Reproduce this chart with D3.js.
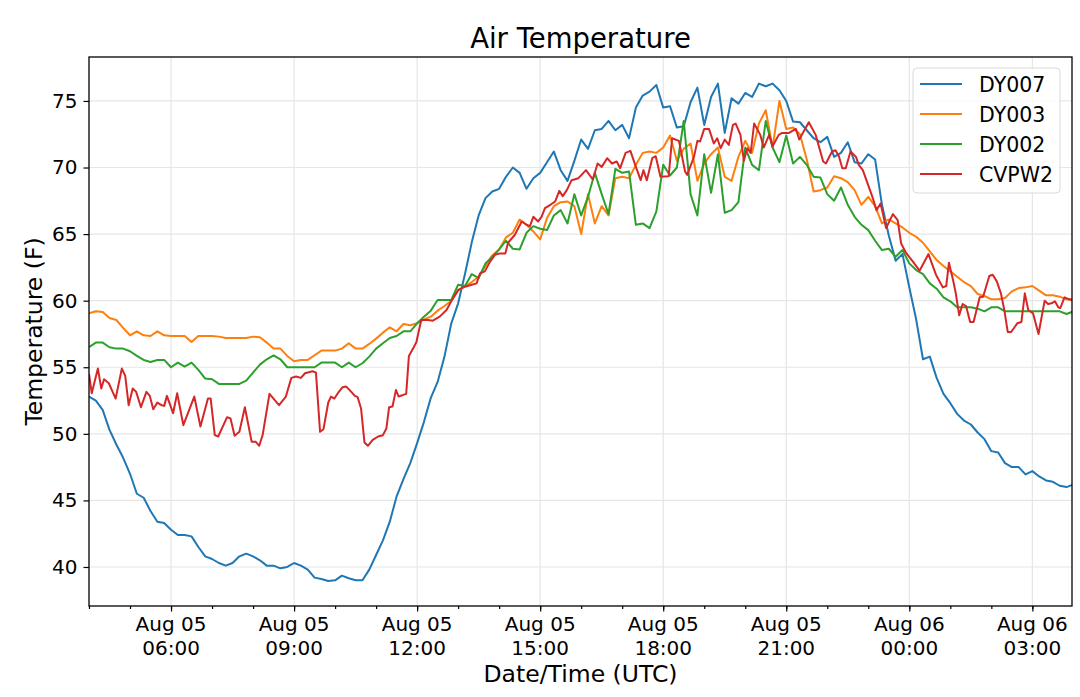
<!DOCTYPE html>
<html>
<head>
<meta charset="utf-8">
<script src="https://cdn.jsdelivr.net/npm/d3@7"></script>
<style>
  body { margin: 0; background: #fff; }
  text { font-family: "DejaVu Sans", sans-serif; fill: #000; }
</style>
</head>
<body>
<div id="chart"></div>
<script>
// readings every 10 min from Aug 05 04:00 UTC
var startTime = Date.UTC(2019, 7, 5, 4, 0);
var stepMinutes = 10;

var seriesNames = ["DY007", "DY003", "DY002", "CVPW2"];
var seriesColors = ["#1f77b4", "#ff7f0e", "#2ca02c", "#d62728"];

var dy007 = [
  52.8, 52.5, 51.8, 50.3, 49.2, 48.2, 47.0, 45.5, 45.2, 44.2,
  43.4, 43.3, 42.8, 42.4, 42.4, 42.3, 41.5, 40.8, 40.6, 40.3,
  40.1, 40.3, 40.8, 41.0, 40.8, 40.5, 40.1, 40.1, 39.9, 40.0,
  40.3, 40.1, 39.8, 39.2, 39.1, 38.95, 39.0, 39.35, 39.15, 39.0,
  39.0, 39.8, 40.9, 42.0, 43.4, 45.3, 46.6, 47.8, 49.3, 50.9,
  52.7, 53.9, 55.8, 58.3, 59.8, 62.0, 64.4, 66.4, 67.7, 68.2,
  68.4, 69.3, 70.0, 69.6, 68.4, 69.2, 69.6, 70.4, 71.2, 69.8,
  69.0, 70.5, 72.1, 71.4, 72.8, 72.9, 73.5, 72.8, 73.2, 72.2,
  74.5, 75.4, 75.7, 76.2, 74.5, 74.6, 73.0, 73.1, 74.9, 76.0,
  73.2, 75.3, 76.3, 72.6, 75.2, 74.8, 75.6, 75.3, 76.3, 76.1,
  76.3, 75.8, 75.0, 73.45, 73.4, 72.8, 72.2, 71.9, 72.3, 70.8,
  71.1, 71.9, 70.4, 70.3, 71.0, 70.6, 67.2, 64.9, 63.0, 63.5,
  61.0, 58.6, 55.6, 55.8, 54.2, 53.0, 52.3, 51.5, 51.0, 50.7,
  50.1, 49.6, 48.7, 48.6, 47.8, 47.5, 47.5, 46.95, 47.2, 46.8,
  46.5, 46.4, 46.1, 46.0, 46.2
];

var dy003 = [
  59.05, 59.2, 59.15, 58.7, 58.55, 57.95, 57.4, 57.7, 57.4, 57.35,
  57.7, 57.4, 57.35, 57.35, 57.35, 56.9, 57.35, 57.35, 57.35, 57.3,
  57.2, 57.2, 57.2, 57.2, 57.3, 57.25, 56.85, 56.4, 56.4, 55.85,
  55.45, 55.55, 55.55, 55.9, 56.25, 56.25, 56.25, 56.4, 56.8, 56.4,
  56.4, 56.75, 57.15, 57.6, 58.0, 57.7, 58.25, 58.15, 58.3, 58.6,
  58.8, 59.25, 59.6, 60.0, 60.75, 61.1, 61.4, 61.8, 62.6, 63.4,
  63.85, 64.75, 65.1, 66.1, 65.7, 65.2, 64.6, 66.2, 67.1, 67.4,
  67.45, 67.1, 65.0, 68.0, 65.8, 67.1, 66.4, 69.2, 69.3, 69.2,
  70.2, 71.1, 71.2, 71.1, 71.5, 72.4, 70.5, 71.4, 71.8, 69.0,
  70.3, 71.0, 71.5, 69.3, 69.0, 70.8, 72.0, 71.1, 73.3, 74.3,
  71.5, 75.0, 72.9, 73.0, 72.5, 70.6, 68.2, 68.3, 68.5, 69.35,
  69.2, 68.9, 68.3, 67.2, 67.8, 67.1, 65.8, 66.1, 65.8, 65.5,
  65.1, 64.8, 64.35, 63.7, 63.05, 62.6, 62.2, 61.8, 61.4, 61.1,
  60.5, 60.35, 60.1, 60.1, 60.2, 60.7, 60.95, 61.0, 61.1, 60.75,
  60.4, 60.4, 60.3, 60.1, 60.05
];

var dy002 = [
  56.5, 56.85, 56.85, 56.5, 56.4, 56.4, 56.2, 55.85, 55.55, 55.4,
  55.55, 55.55, 55.0, 55.35, 55.05, 55.35, 54.8, 54.15, 54.1, 53.75,
  53.75, 53.75, 53.75, 54.0, 54.6, 55.2, 55.6, 55.9, 55.6, 55.0,
  55.0, 55.0, 55.0, 55.0, 55.35, 55.35, 55.35, 55.0, 55.35, 55.0,
  55.3, 55.8, 56.4, 56.8, 57.2, 57.35, 57.7, 57.7, 58.3, 58.8,
  59.25, 60.05, 60.05, 60.05, 61.2, 61.1, 62.0, 61.7, 62.8, 63.3,
  63.85, 64.5, 63.9, 63.85, 65.1, 65.6, 65.4, 65.3, 66.4, 66.8,
  65.8, 68.0, 66.4, 67.8, 69.6, 68.0, 66.5, 69.9, 69.6, 69.7,
  65.7, 65.8, 65.45, 66.7, 70.2, 69.4, 70.0, 73.5, 68.0, 66.4,
  71.0, 68.1, 71.0, 66.6, 66.8, 67.4, 71.5, 70.2, 69.8, 73.5,
  71.5, 70.4, 72.4, 70.3, 70.8, 70.2, 69.3, 69.25, 68.0, 67.5,
  68.5, 67.2, 66.3, 65.7, 65.3, 64.5, 63.8, 63.9, 63.3, 63.8,
  62.8, 62.3, 62.0, 61.3, 60.9, 60.25, 59.95, 59.5, 59.5, 59.5,
  59.4, 59.2, 59.5, 59.5, 59.2, 59.2, 59.2, 59.2, 59.2, 59.2,
  59.2, 59.2, 59.2, 59.0, 59.2
];

// CVPW2 reports more often: minutes after 04:00 and temperature
var cvpw2Minutes = [
  0, 4, 13, 18, 22, 29, 39, 48, 53, 58,
  64, 69, 76, 84, 89, 94, 100, 106, 110, 114,
  123, 129, 138, 154, 163, 174, 178, 184, 189, 202,
  207, 213, 220, 228, 238, 244, 249, 254, 264, 278,
  288, 296, 303, 310, 316, 327, 332, 338, 343, 350,
  354, 359, 364, 371, 376, 381, 389, 393, 398, 403,
  408, 415, 423, 430, 435, 439, 444, 449, 453, 464,
  468, 474, 479, 486, 496, 503, 513, 523, 530, 540,
  550, 560, 567, 572, 579, 587, 594, 601, 609, 613,
  623, 633, 640, 645, 650, 657, 662, 667, 675, 682,
  688, 693, 699, 706, 716, 727, 737, 744, 750, 758,
  765, 772, 777, 785, 792, 799, 807, 811, 816, 824,
  829, 836, 848, 853, 863, 872, 875, 885, 890, 894,
  900, 907, 914, 919, 924, 930, 936, 942, 946, 953,
  958, 963, 968, 973, 982, 987, 995, 1000, 1009, 1014,
  1024, 1034, 1039, 1053, 1063, 1074, 1078, 1087, 1092, 1097,
  1102, 1107, 1114, 1122, 1126, 1132, 1146, 1152, 1158, 1166,
  1176, 1183, 1188, 1195, 1205, 1215, 1228, 1239, 1249, 1254,
  1258, 1264, 1268, 1273, 1278, 1283, 1289, 1294, 1303, 1308,
  1317, 1322, 1328, 1334, 1339, 1344, 1349, 1358, 1364, 1369,
  1374, 1381, 1389, 1398, 1403, 1408, 1413, 1418, 1421, 1427,
  1434, 1440
];

var cvpw2Temps = [
  54.5, 53.05, 54.9, 53.4, 54.1, 53.8, 52.65, 54.9, 54.35, 52.15,
  53.4, 53.15, 52.0, 53.15, 52.85, 51.85, 52.35, 52.15, 52.1, 52.85,
  51.55, 53.05, 50.65, 52.8, 50.55, 52.65, 52.65, 49.9, 49.8, 51.25,
  51.15, 49.85, 50.15, 52.0, 49.4, 49.4, 49.1, 49.9, 53.0, 52.15,
  52.8, 54.2, 54.3, 54.2, 54.55, 54.7, 54.6, 50.15, 50.35, 52.35,
  52.8, 52.65, 53.05, 53.5, 53.55, 53.3, 52.85, 52.75, 51.9, 49.35,
  49.1, 49.55, 49.8, 49.9, 50.4, 52.0, 52.05, 53.3, 52.8, 53.0,
  55.85, 56.4, 56.9, 58.55, 58.55, 58.5, 58.8, 59.3, 59.95, 60.8,
  61.05, 61.2, 61.3, 62.05, 62.2, 62.95, 63.45, 63.55, 63.55, 64.35,
  64.95, 65.95, 65.7, 65.6, 66.3, 65.95, 66.3, 66.95, 67.2, 67.45,
  68.25, 67.85, 68.3, 69.05, 69.2, 69.8, 69.1, 70.3, 70.05, 70.7,
  70.3, 70.45, 69.95, 71.1, 71.25, 70.2, 69.05, 69.8, 69.05, 70.7,
  70.85, 69.3, 69.35, 72.2, 72.0, 69.7, 69.45, 70.8, 72.0, 71.95,
  72.9, 72.9, 71.8, 72.2, 71.45, 72.1, 71.7, 73.2, 73.3, 72.45,
  70.5, 71.45, 71.1, 73.3, 72.45, 71.5, 72.45, 71.6, 72.45, 72.6,
  72.6, 72.9, 72.1, 73.4, 72.45, 70.45, 70.3, 71.2, 71.3, 70.85,
  69.95, 69.95, 71.2, 70.8, 70.2, 69.8, 67.8, 66.8, 67.3, 65.45,
  66.5, 66.05, 64.3, 63.6, 62.95, 62.25, 63.5, 61.95, 61.0, 61.1,
  62.85, 61.55, 60.55, 58.9, 59.75, 59.6, 58.4, 58.4, 60.25, 60.3,
  61.85, 61.95, 61.45, 60.55, 59.3, 57.65, 57.65, 58.3, 58.4, 60.55,
  59.3, 59.05, 57.5, 60.0, 59.75, 59.8, 59.95, 59.5, 59.45, 60.25,
  60.1, 60.05
];

var yTicks = [40, 45, 50, 55, 60, 65, 70, 75];
var yDomain = [37.07, 78.3];
var endMinutes = 1438;

var width = 1080, height = 697;
var margin = {top: 57, right: 8, bottom: 91, left: 89};
var plotW = width - margin.left - margin.right,
    plotH = height - margin.top - margin.bottom;

var minute = 60000;
var x = d3.scaleUtc()
    .domain([new Date(startTime), new Date(startTime + endMinutes * minute)])
    .range([0, plotW]);

var y = d3.scaleLinear()
    .domain(yDomain)
    .range([plotH, 0]);

function regular(values) {
  return values.map(function(v, i) {
    return {date: new Date(startTime + i * stepMinutes * minute), value: v};
  });
}

var series = [
  regular(dy007),
  regular(dy003),
  regular(dy002),
  cvpw2Minutes.map(function(m, i) {
    return {date: new Date(startTime + m * minute), value: cvpw2Temps[i]};
  })
];

var line = d3.line()
    .x(function(d) { return x(d.date); })
    .y(function(d) { return y(d.value); });

var svg = d3.select("#chart").append("svg")
    .attr("width", width)
    .attr("height", height);

var g = svg.append("g")
    .attr("transform", "translate(" + margin.left + "," + margin.top + ")");

g.append("clipPath").attr("id", "plot-clip")
  .append("rect").attr("width", plotW).attr("height", plotH);

var majorTicks = x.ticks(d3.utcHour.every(3));

// grid
g.append("g").selectAll("line")
    .data(yTicks)
  .join("line")
    .attr("x1", 0).attr("x2", plotW)
    .attr("y1", function(d) { return y(d); })
    .attr("y2", function(d) { return y(d); })
    .attr("stroke", "#e6e6e6").attr("stroke-width", 1.2);

g.append("g").selectAll("line")
    .data(majorTicks)
  .join("line")
    .attr("y1", 0).attr("y2", plotH)
    .attr("x1", function(d) { return x(d); })
    .attr("x2", function(d) { return x(d); })
    .attr("stroke", "#e6e6e6").attr("stroke-width", 1.2);

// lines
g.append("g").attr("clip-path", "url(#plot-clip)")
  .selectAll("path")
    .data(series)
  .join("path")
    .attr("d", line)
    .attr("fill", "none")
    .attr("stroke", function(d, i) { return seriesColors[i]; })
    .attr("stroke-width", 2)
    .attr("stroke-linejoin", "round");

// axes
var xMinor = d3.axisBottom(x).ticks(d3.utcHour.every(1)).tickSize(3).tickFormat("");
var xMajor = d3.axisBottom(x).ticks(d3.utcHour.every(3)).tickSize(5.5).tickFormat("");
var yAxis = d3.axisLeft(y).tickValues(yTicks).tickSize(5.5).tickPadding(6);

g.append("g").attr("transform", "translate(0," + plotH + ")").call(xMinor)
  .call(function(a) { a.select(".domain").remove(); });
g.append("g").attr("transform", "translate(0," + plotH + ")").call(xMajor)
  .call(function(a) { a.select(".domain").remove(); });

var yG = g.append("g").call(yAxis);
yG.select(".domain").remove();
yG.selectAll("text")
    .attr("font-size", 20)
    .attr("font-family", "DejaVu Sans")
    .attr("fill", "#000");

g.selectAll(".tick line").attr("stroke", "#000").attr("stroke-width", 1.2);

var fmtDay = d3.utcFormat("%b %d"), fmtTime = d3.utcFormat("%H:%M");
var xLabels = g.append("g").selectAll("text")
    .data(majorTicks)
  .join("text")
    .attr("text-anchor", "middle")
    .attr("font-size", 20)
    .attr("transform", function(d) { return "translate(" + x(d) + "," + plotH + ")"; });
xLabels.append("tspan").attr("x", 0).attr("y", 25).text(function(d) { return fmtDay(d); });
xLabels.append("tspan").attr("x", 0).attr("y", 49).text(function(d) { return fmtTime(d); });

// frame
g.append("rect")
    .attr("width", plotW).attr("height", plotH)
    .attr("fill", "none").attr("stroke", "#000").attr("stroke-width", 1.3);

// titles
svg.append("text")
    .attr("x", margin.left + plotW / 2).attr("y", 48)
    .attr("text-anchor", "middle").attr("font-size", 27.5)
    .text("Air Temperature");

svg.append("text")
    .attr("x", margin.left + plotW / 2).attr("y", 682)
    .attr("text-anchor", "middle").attr("font-size", 23.5)
    .text("Date/Time (UTC)");

svg.append("text")
    .attr("transform", "translate(41.5," + (margin.top + plotH / 2) + ") rotate(-90)")
    .attr("text-anchor", "middle").attr("font-size", 23.5)
    .text("Temperature (F)");

// legend
var legend = svg.append("g").attr("transform", "translate(913,68)");
legend.append("rect")
    .attr("width", 147).attr("height", 125).attr("rx", 4)
    .attr("fill", "#fff").attr("fill-opacity", 0.8)
    .attr("stroke", "#d9d9d9").attr("stroke-width", 1);

var rows = legend.selectAll(".row")
    .data(seriesNames)
  .join("g")
    .attr("class", "row")
    .attr("transform", function(d, i) { return "translate(0," + (16 + i * 30) + ")"; });
rows.append("line")
    .attr("x1", 7).attr("x2", 49)
    .attr("stroke", function(d, i) { return seriesColors[i]; })
    .attr("stroke-width", 2);
rows.append("text")
    .attr("x", 66).attr("y", 7.5)
    .attr("font-size", 20.5)
    .text(function(d) { return d; });
</script>
</body>
</html>
